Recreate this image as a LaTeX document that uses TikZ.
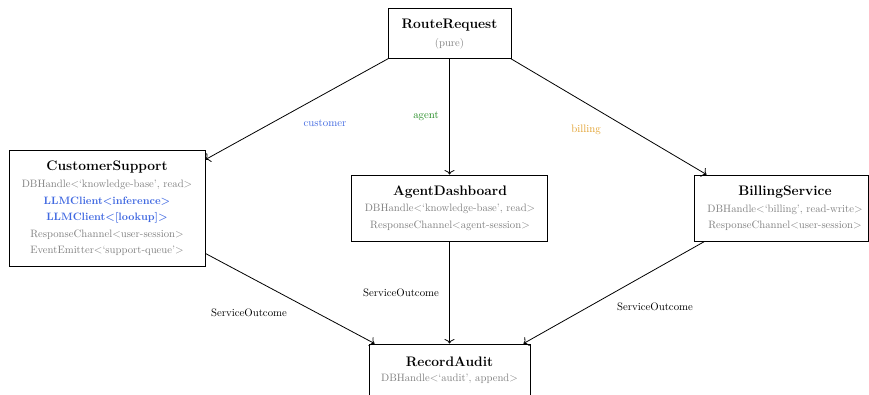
\documentclass[tikz,border=0pt]{standalone}
\usetikzlibrary{arrows.meta}
\definecolor{subgray}{RGB}{128,128,128}
\definecolor{custblue}{RGB}{65,105,225}
\definecolor{agentgreen}{RGB}{34,139,34}
\definecolor{billorange}{RGB}{225,160,45}
\begin{document}
\begin{tikzpicture}[x=1pt,y=-1pt,
  box/.style={draw,line width=0.9pt,inner sep=0pt,minimum width=#1},
  ttl/.style={inner sep=0pt,font=\fontsize{13.8}{16}\selectfont\bfseries},
  sub/.style={inner sep=0pt,text=subgray,font=\fontsize{10.7}{12}\selectfont},
  llm/.style={inner sep=0pt,text=custblue,font=\fontsize{10.7}{12}\selectfont\bfseries},
  lbl/.style={inner sep=0pt,font=\fontsize{10.8}{12}\selectfont},
  conn/.style={line width=0.8pt,-{To[length=4.5pt,width=10pt]}}]
\clip (0,0) rectangle (869,394);
% boxes
\node[box=123pt,minimum height=50pt] (rr) at (449.5,33) {};
\node[box=196pt,minimum height=116pt] (cs) at (107,208) {};
\node[box=196pt,minimum height=66pt] (ad) at (449.5,208) {};
\node[box=174pt,minimum height=66pt] (bs) at (781,208) {};
\node[box=161pt,minimum height=66pt] (ra) at (449.5,377) {};
% texts
\node[ttl] (rrT) at (449.5,25) {RouteRequest};
\node[sub] (rr1) at (449.5,44) {(pure)};
\node[ttl] (csT) at (107,167.5) {CustomerSupport};
\node[sub] (cs1) at (107,184.5) {DBHandle$<$`knowledge-base', read$>$};
\node[llm] (cs2) at (107,201.5) {LLMClient\textless inference\textgreater};
\node[llm] (cs3) at (107,218) {LLMClient\textless[lookup]\textgreater};
\node[sub] (cs4) at (107,234.5) {ResponseChannel$<$user-session$>$};
\node[sub] (cs5) at (107,250.5) {EventEmitter$<$`support-queue'$>$};
\node[ttl] (adT) at (450,192) {AgentDashboard};
\node[sub] (ad1) at (450,209) {DBHandle$<$`knowledge-base', read$>$};
\node[sub] (ad2) at (450,225.5) {ResponseChannel$<$agent-session$>$};
\node[ttl] (bsT) at (785,192) {BillingService};
\node[sub] (bs1) at (785,209.5) {DBHandle$<$`billing', read-write$>$};
\node[sub] (bs2) at (785,226) {ResponseChannel$<$user-session$>$};
\node[ttl] (raT) at (449.5,361.5) {RecordAudit};
\node[sub] (ra1) at (449.5,378.5) {DBHandle$<$`audit', append$>$};
% connectors
\draw[conn] ([xshift=1pt]rr.south west) -- ([yshift=-10pt]cs.north east);
\draw[conn] (rr.south) -- (rr.south |- ad.north);
\draw[conn] ([xshift=-1pt]rr.south east) -- ([xshift=13pt]bs.north west);
\draw[conn] ([yshift=13pt]cs.south east) -- ([xshift=6pt]ra.north west);
\draw[conn] (ad.south) -- (ad.south |- ra.north);
\draw[conn] ([xshift=11pt]bs.south west) -- ([xshift=-7pt]ra.north east);
% edge labels
\node[lbl,text=custblue] (lc) at (325,123) {customer};
\node[lbl,text=agentgreen] (la) at (426,116) {agent};
\node[lbl,text=billorange] (lb) at (586,130) {billing};
\node[lbl] (l1) at (249,313) {ServiceOutcome};
\node[lbl] (l2) at (401,293) {ServiceOutcome};
\node[lbl] (l3) at (655,307) {ServiceOutcome};
\end{tikzpicture}
\end{document}
